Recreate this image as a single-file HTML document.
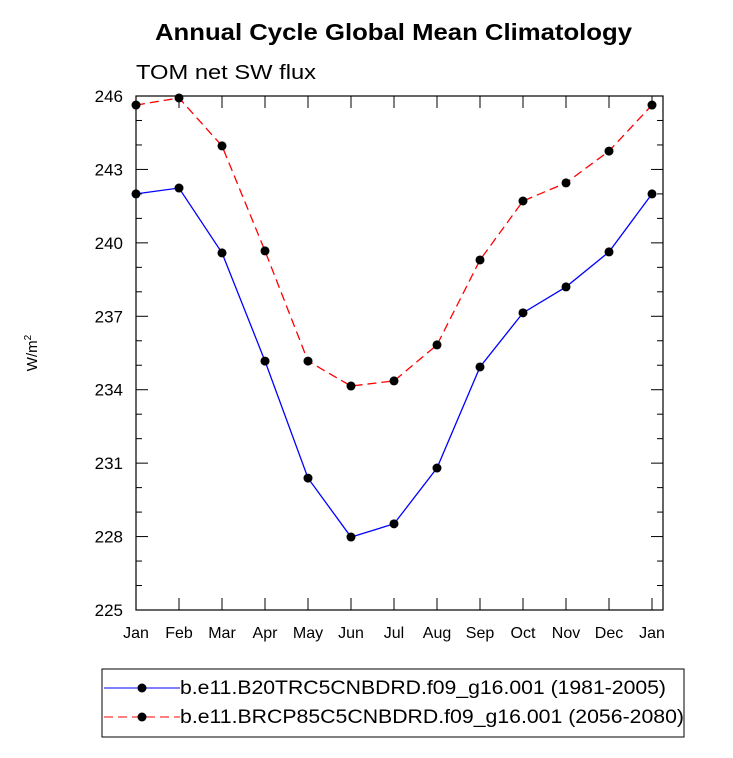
<!DOCTYPE html>
<html><head><meta charset="utf-8"><style>body{margin:0;background:#fff}svg{display:block;font-family:"Liberation Sans",sans-serif}</style></head>
<body>
<svg id="c" width="733" height="758">
<text x="155" y="40" textLength="477" lengthAdjust="spacingAndGlyphs" font-size="23" font-weight="bold">Annual Cycle Global Mean Climatology</text>
<text x="136" y="79" textLength="180" lengthAdjust="spacingAndGlyphs" font-size="20">TOM net SW flux</text>
<text transform="translate(37,353) rotate(-90)" text-anchor="middle" font-size="15">W/m<tspan dy="-6" font-size="10">2</tspan></text>
<g id="g"></g>
<rect x="102" y="669" width="582" height="68" fill="none" stroke="#000"/>
<g><line x1="104" y1="688" x2="180" y2="688" stroke="#00f"/><circle cx="142" cy="688" r="4.5"/><text x="180" y="694" textLength="486" lengthAdjust="spacingAndGlyphs" font-size="19">b.e11.B20TRC5CNBDRD.f09_g16.001 (1981-2005)</text></g>
<g><line x1="104" y1="717" x2="180" y2="717" stroke="#f00" stroke-dasharray="9,5"/><circle cx="142" cy="717" r="4.5"/><text x="180" y="723" textLength="504" lengthAdjust="spacingAndGlyphs" font-size="19">b.e11.BRCP85C5CNBDRD.f09_g16.001 (2056-2080)</text></g>
</svg>
<script>
const months=["Jan","Feb","Mar","Apr","May","Jun","Jul","Aug","Sep","Oct","Nov","Dec","Jan"];
const histValues=[242.0,242.24,239.59,235.17,230.39,227.98,228.52,230.8,234.93,237.14,238.2,239.63,242.0];
const futValues=[245.63,245.92,243.96,239.67,235.17,234.15,234.36,235.83,239.3,241.71,242.45,243.75,245.63];
const yTicks=[225,228,231,234,237,240,243,246];
const L=136,R=663,T=96,B=610,ymin=225,ymax=246;
const x=i=>L+i*43;
const y=v=>B-(v-ymin)/(ymax-ymin)*(B-T);
const g=document.getElementById('g');const NS='http://www.w3.org/2000/svg';
function mk(t,a,p){const e=document.createElementNS(NS,t);for(const k in a)e.setAttribute(k,a[k]);(p||g).appendChild(e);return e;}
const fr=mk('rect',{x:L,y:T,width:R-L,height:B-T,fill:'none',stroke:'#000','stroke-width':1.2});


for(let v=ymin;v<=ymax;v++){const maj=(v-ymin)%3===0,len=maj?12:6;
 mk('line',{x1:L,x2:L+len,y1:y(v),y2:y(v),stroke:'#000'});mk('line',{x1:R,x2:R-len,y1:y(v),y2:y(v),stroke:'#000'});}
yTicks.forEach(v=>{const t=mk('text',{x:L-13,y:y(v)+6,'text-anchor':'end','font-size':17});t.textContent=v;

});
months.forEach((m,i)=>{mk('line',{x1:x(i),x2:x(i),y1:B,y2:B-12,stroke:'#000'});mk('line',{x1:x(i),x2:x(i),y1:T,y2:T+12,stroke:'#000'});
const t=mk('text',{x:x(i),y:B+28,'text-anchor':'middle','font-size':16});t.textContent=m;

});
function series(vals,col,dash,name){
 const p=mk('polyline',{points:vals.map((v,i)=>x(i)+','+y(v)).join(' '),fill:'none',stroke:col,'stroke-width':1.3,'stroke-dasharray':dash});
 
 
 vals.forEach((v,i)=>{const c=mk('circle',{cx:x(i),cy:y(v),r:4.5});
 
 });
}
series(histValues,'#00f','none','hist');
series(futValues,'#f00','9,5','future');
</script>
</body></html>
